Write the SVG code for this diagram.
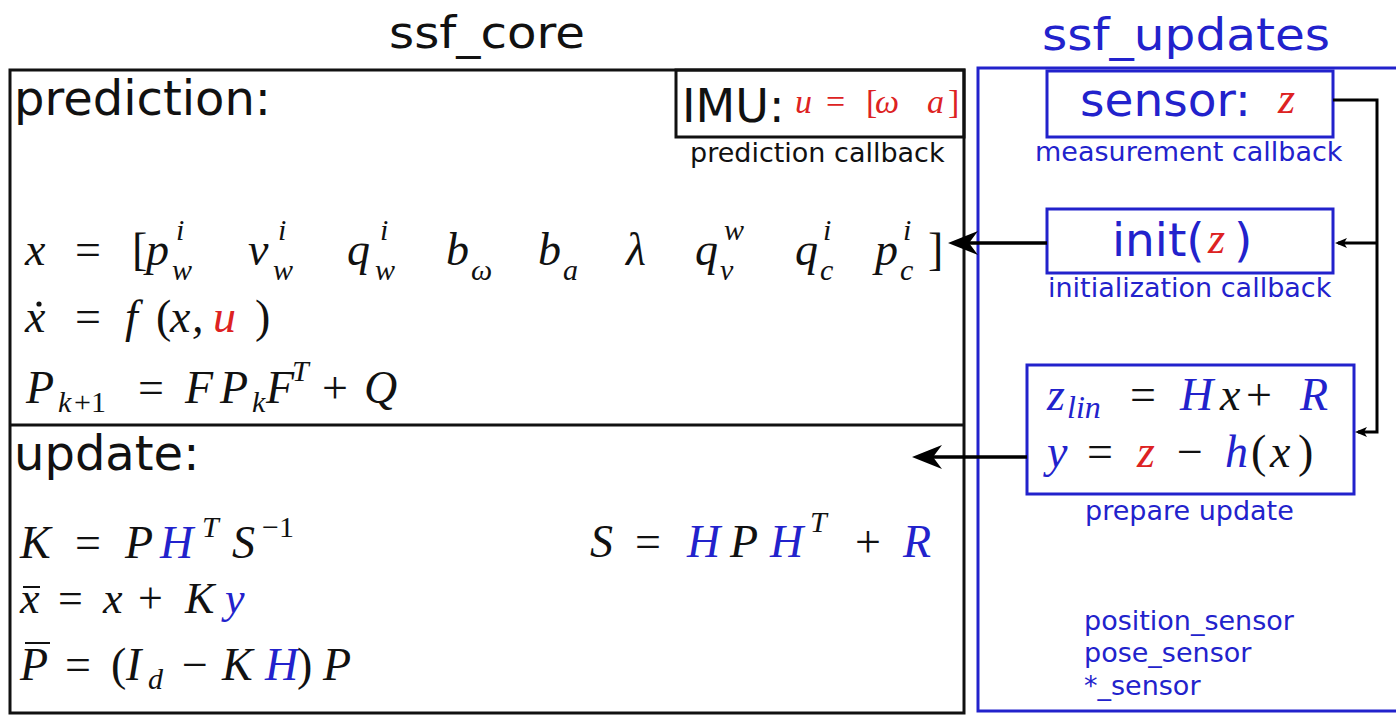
<svg xmlns="http://www.w3.org/2000/svg" width="1396" height="721" viewBox="0 0 1396 721">
<style>
.sans{font-family:"DejaVu Sans",Verdana,sans-serif}
.m{font-family:"Liberation Serif","DejaVu Serif",serif;font-style:italic}
.u{font-style:normal}
.blk{fill:#111}
.blue{fill:#2222cc}
.red{fill:#dd2222}
.box{fill:none;stroke:#111;stroke-width:3}
.bbox{fill:none;stroke:#2222cc;stroke-width:3}
.con{fill:none;stroke:#000;stroke-width:3.5}
.con2{fill:none;stroke:#000;stroke-width:3}
.acc{stroke:#111;stroke-width:2}
</style>
<defs>
<marker id="big" markerUnits="userSpaceOnUse" viewBox="0 0 30 24" markerWidth="30" markerHeight="24" refX="22" refY="12" orient="auto">
<path d="M30,12 L0,0 L9,12 L0,24 Z" fill="#000"/>
</marker>
<marker id="small" markerUnits="userSpaceOnUse" viewBox="0 0 12 10" markerWidth="12" markerHeight="10" refX="9" refY="5" orient="auto">
<path d="M12,5 L0,0 L3,5 L0,10 Z" fill="#000"/>
</marker>
</defs>
<rect width="1396" height="721" fill="#fff"/>

<g id="titles">
<text x="487" y="48" class="sans blk" font-size="44" text-anchor="middle" textLength="196" lengthAdjust="spacingAndGlyphs">ssf_core</text>
<text x="1186" y="50" class="sans blue" font-size="44" text-anchor="middle" textLength="288" lengthAdjust="spacingAndGlyphs">ssf_updates</text>
</g>

<g id="ssf_core">
<rect x="10" y="70" width="954" height="643" class="box"/>
<line x1="10" y1="425" x2="964" y2="425" stroke="#111" stroke-width="3"/>
</g>

<g id="prediction">
<text x="14" y="115" class="sans blk" font-size="48">prediction:</text>
<text class="m blk" font-size="46" y="265">
<tspan x="25">x</tspan><tspan x="75" class="u">=</tspan><tspan x="132" class="u">[</tspan><tspan x="146">p</tspan><tspan x="248">v</tspan><tspan x="347">q</tspan><tspan x="446">b</tspan><tspan x="538">b</tspan><tspan x="626">λ</tspan><tspan x="695">q</tspan><tspan x="795">q</tspan><tspan x="875">p</tspan><tspan x="928" class="u">]</tspan>
</text>
<text class="m blk" font-size="30">
<tspan x="176" y="240">i</tspan><tspan x="172" y="280">w</tspan>
<tspan x="278" y="240">i</tspan><tspan x="273" y="280">w</tspan>
<tspan x="380" y="240">i</tspan><tspan x="375" y="280">w</tspan>
<tspan x="471" y="280">ω</tspan>
<tspan x="563" y="280">a</tspan>
<tspan x="724" y="240">w</tspan><tspan x="720" y="280">v</tspan>
<tspan x="823" y="240">i</tspan><tspan x="820" y="280">c</tspan>
<tspan x="903" y="240">i</tspan><tspan x="900" y="280">c</tspan>
</text>
<text class="m blk" font-size="46" y="332"><tspan x="25">x</tspan><tspan x="75" class="u">=</tspan><tspan x="125">f</tspan><tspan x="156" class="u">(</tspan><tspan x="170">x</tspan><tspan x="192">,</tspan><tspan x="213" class="red">u</tspan><tspan x="255" class="u">)</tspan></text>
<circle cx="39" cy="304" r="2.6" fill="#111"/>
<text class="m blk" font-size="46" y="403"><tspan x="26">P</tspan><tspan x="138" class="u">=</tspan><tspan x="185">F</tspan><tspan x="220">P</tspan><tspan x="266">F</tspan><tspan x="322" class="u">+</tspan><tspan x="364">Q</tspan></text>
<text class="m blk" font-size="30"><tspan x="58" y="412">k</tspan><tspan x="74" y="412" class="u">+1</tspan><tspan x="252" y="412">k</tspan><tspan x="292" y="381">T</tspan></text>
</g>

<g id="imu">
<rect x="676" y="70" width="288" height="67" class="box"/>
<text x="682" y="122" class="sans blk" font-size="46">IMU:</text>
<text class="m red" font-size="34" y="113"><tspan x="795">u</tspan><tspan x="826" class="u">=</tspan><tspan x="866" class="u">[</tspan><tspan x="875">ω</tspan><tspan x="927">a</tspan><tspan x="948" class="u">]</tspan></text>
<text x="690" y="162" class="sans blk" font-size="27">prediction callback</text>
</g>

<g id="update">
<text x="14" y="470" class="sans blk" font-size="48">update:</text>
<text class="m blk" font-size="46" y="558"><tspan x="20">K</tspan><tspan x="75" class="u">=</tspan><tspan x="125">P</tspan><tspan x="160" class="blue">H</tspan><tspan x="232">S</tspan></text>
<text class="m blk" font-size="30" y="537"><tspan x="202">T</tspan><tspan x="262" class="u">−1</tspan></text>
<text class="m blk" font-size="46" y="557"><tspan x="590">S</tspan><tspan x="635" class="u">=</tspan><tspan x="687" class="blue">H</tspan><tspan x="730">P</tspan><tspan x="770" class="blue">H</tspan><tspan x="855" class="u">+</tspan><tspan x="903" class="blue">R</tspan></text>
<text x="810" y="532" class="m blk" font-size="30">T</text>
<text class="m blk" font-size="44" y="613"><tspan x="20">x</tspan><tspan x="58" class="u">=</tspan><tspan x="103">x</tspan><tspan x="138" class="u">+</tspan><tspan x="185">K</tspan><tspan x="225" class="blue">y</tspan></text>
<line x1="23" y1="587" x2="40" y2="587" class="acc"/>
<text class="m blk" font-size="46" y="680"><tspan x="20">P</tspan><tspan x="65" class="u">=</tspan><tspan x="111" class="u">(</tspan><tspan x="126">I</tspan><tspan x="182" class="u">−</tspan><tspan x="222">K</tspan><tspan x="265" class="blue">H</tspan><tspan x="297" class="u">)</tspan><tspan x="323">P</tspan></text>
<text x="148" y="689" class="m blk" font-size="30">d</text>
<line x1="25" y1="643" x2="50" y2="643" class="acc"/>
</g>

<g id="ssf_updates">
<rect x="978" y="68" width="440" height="643" class="bbox"/>
</g>

<g id="sensor">
<rect x="1047" y="71" width="286" height="66" class="bbox"/>
<text x="1080" y="116" class="sans blue" font-size="47">sensor:</text>
<text x="1278" y="113" class="m red" font-size="44">z</text>
<text x="1035" y="161" class="sans blue" font-size="27">measurement callback</text>
</g>

<g id="init">
<rect x="1047" y="209" width="286" height="64" class="bbox"/>
<text y="256" class="sans blue" font-size="47"><tspan x="1112">init(</tspan><tspan x="1208" y="253" class="m red" font-size="44">z</tspan><tspan x="1234" y="256">)</tspan></text>
<text x="1048" y="297" class="sans blue" font-size="27">initialization callback</text>
</g>

<g id="prepare">
<rect x="1027" y="365" width="327" height="129" class="bbox"/>
<text class="m blue" font-size="46" y="410"><tspan x="1047">z</tspan><tspan x="1130" class="u blk">=</tspan><tspan x="1180">H</tspan><tspan x="1220" class="blk">x</tspan><tspan x="1246" class="u blk">+</tspan><tspan x="1300">R</tspan></text>
<text x="1067" y="418" class="m blue" font-size="32">lin</text>
<text class="m blue" font-size="46" y="467"><tspan x="1047">y</tspan><tspan x="1087" class="u blk">=</tspan><tspan x="1137" class="red">z</tspan><tspan x="1177" class="u blk">−</tspan><tspan x="1225">h</tspan><tspan x="1251" class="u blk">(</tspan><tspan x="1270" class="blk">x</tspan><tspan x="1298" class="u blk">)</tspan></text>
<text x="1085" y="520" class="sans blue" font-size="27">prepare update</text>
</g>

<g id="sensors_list">
<text x="1084" y="630" class="sans blue" font-size="27">position_sensor</text>
<text x="1084" y="662" class="sans blue" font-size="27">pose_sensor</text>
<text x="1084" y="695" class="sans blue" font-size="27">*_sensor</text>
</g>

<g id="connectors">
<polyline points="1333,100 1377,100 1377,432 1358,432" class="con2" marker-end="url(#small)"/>
<line x1="1377" y1="243" x2="1338" y2="243" class="con2" marker-end="url(#small)"/>
<line x1="1047" y1="243" x2="956" y2="243" class="con" marker-end="url(#big)"/>
<line x1="1027" y1="457" x2="920" y2="457" class="con" marker-end="url(#big)"/>
</g>
</svg>
